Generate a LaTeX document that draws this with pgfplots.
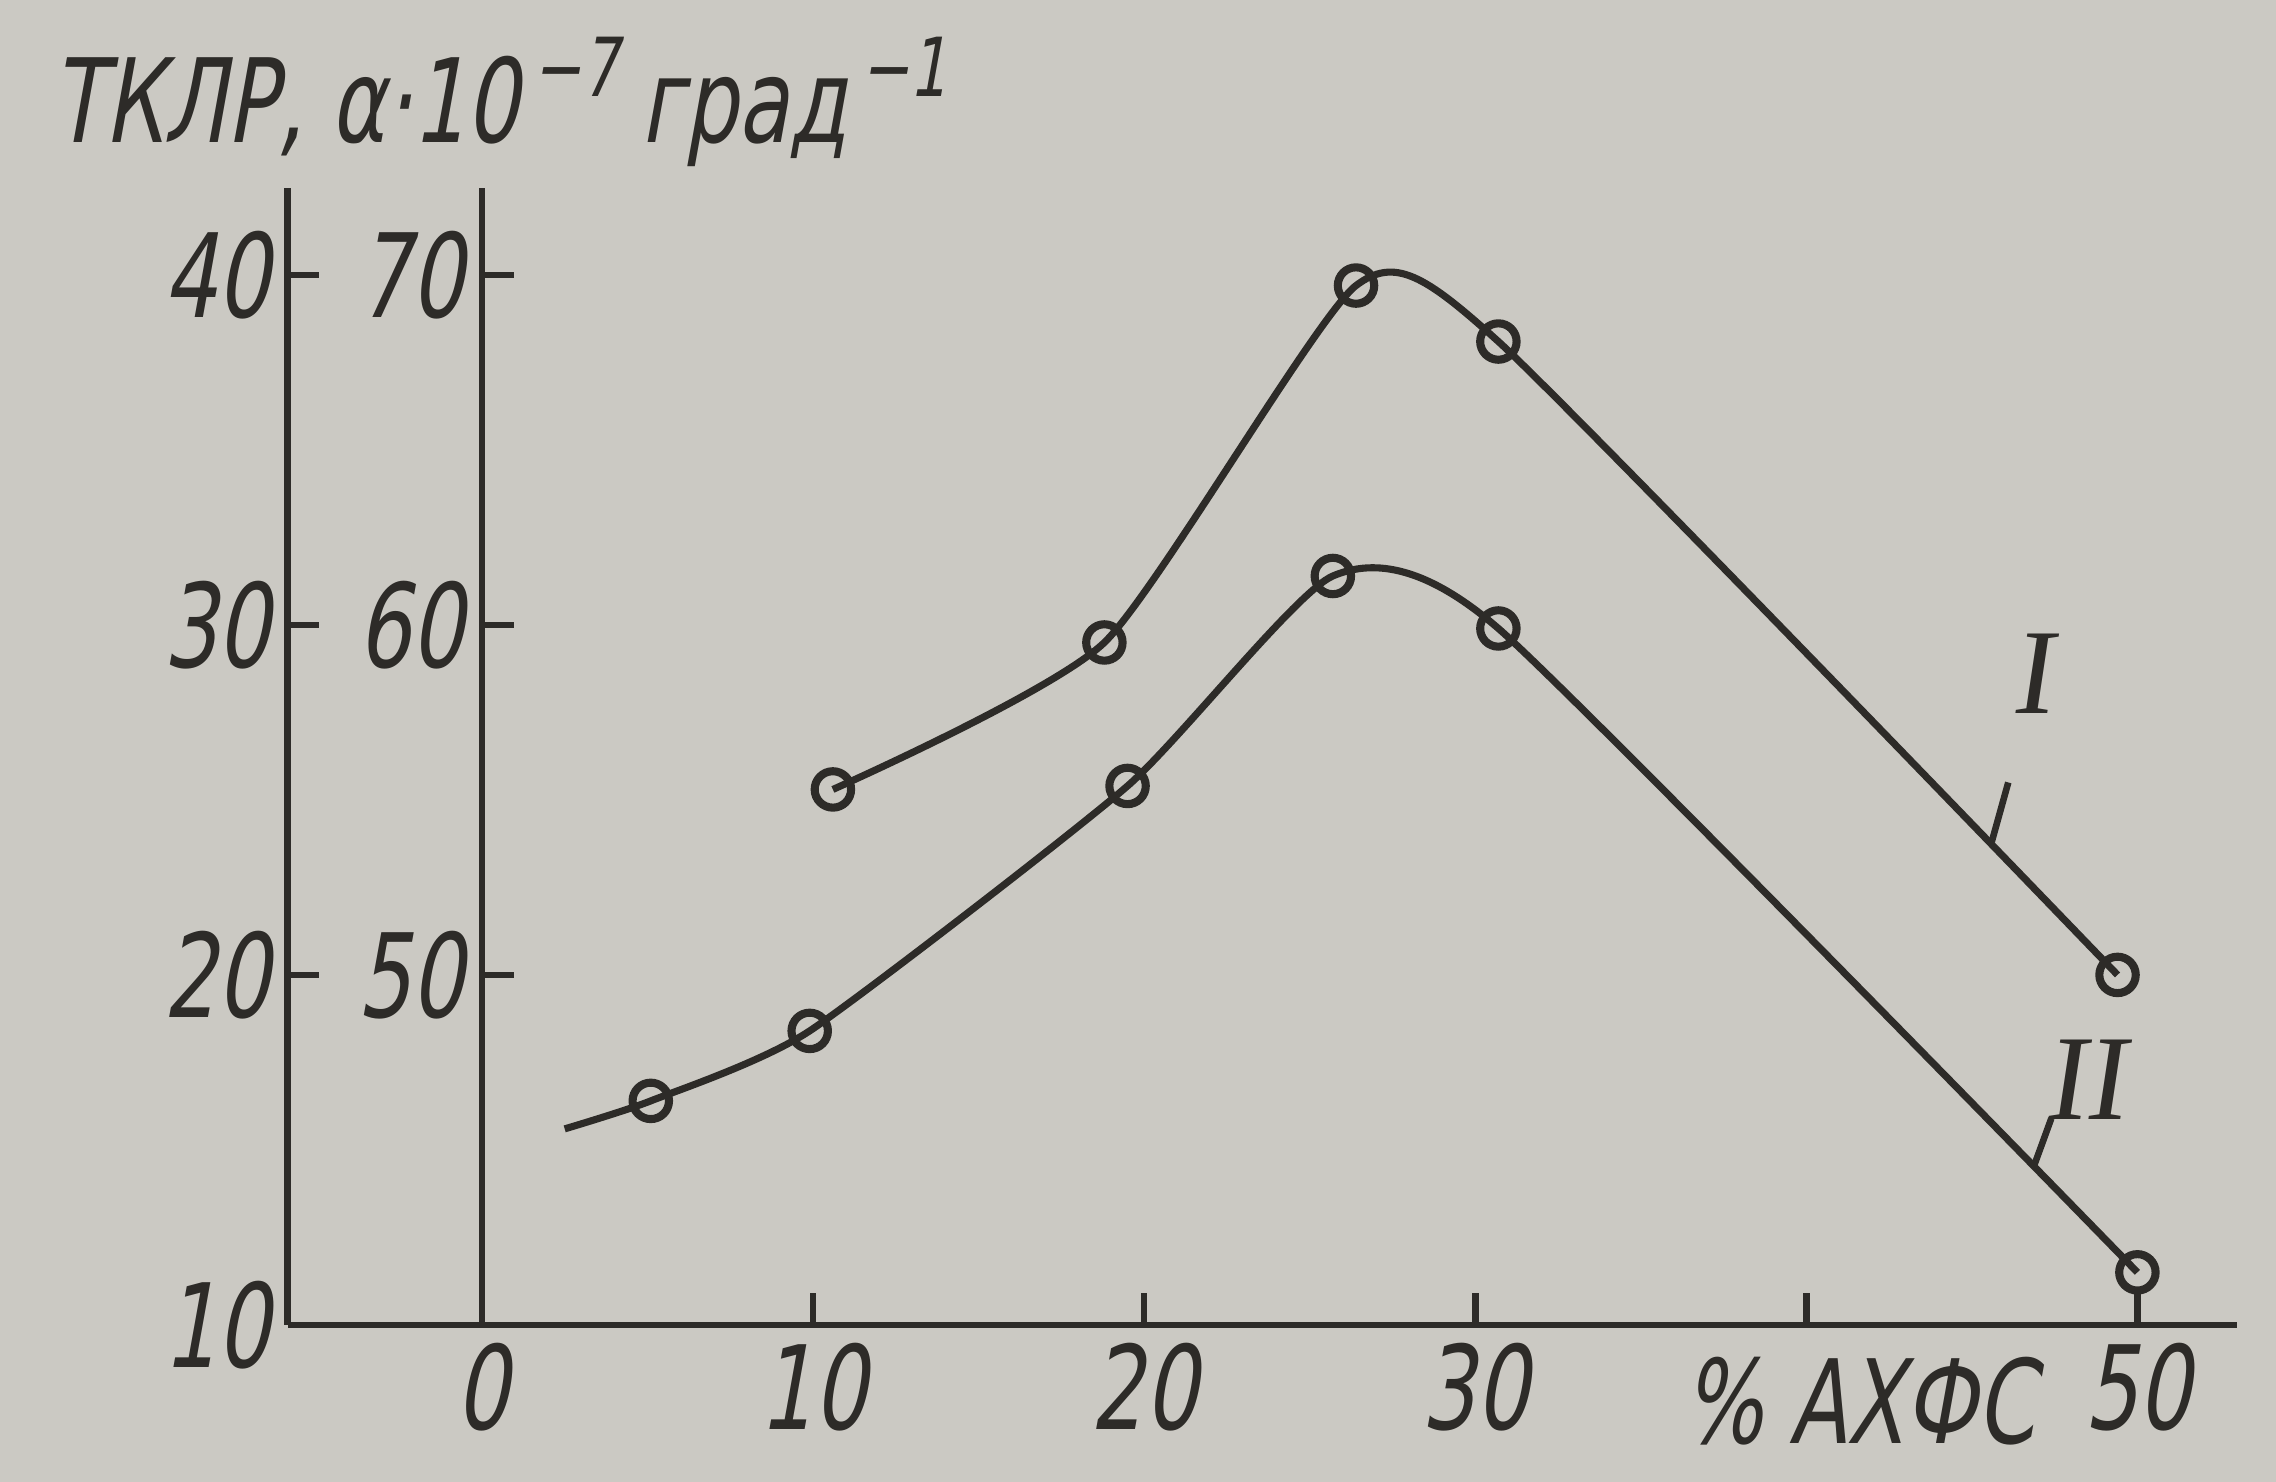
\documentclass[border=0pt]{standalone}
\usepackage{pgfplots}
\pgfplotsset{compat=1.18}
\usepackage{fontspec}
\setmainfont{DejaVu Sans}[FakeStretch=0.72, FakeSlant=0.18]
\newfontfamily\romanfont{Liberation Serif}[FakeSlant=0.15]
\usetikzlibrary{backgrounds}
\definecolor{paper}{RGB}{203,201,195}
\definecolor{ink}{RGB}{45,43,40}

\begin{document}
\begin{tikzpicture}[show background rectangle,
  background rectangle/.style={fill=paper},
  inner frame xsep=0.25cm, inner frame ysep=0.14cm]
\pgfplotsset{
  gost/.style={
    scale only axis, height=7.9cm, clip=false,
    axis x line*=bottom, axis y line*=left,
    tick align=inside, major tick length=0.22cm,
    axis line style={ink, line width=1.3pt},
    tick style={ink, line width=1.3pt},
    tick label style={font=\fontsize{23}{25}\selectfont, text=ink},
    /pgf/number format/assume math mode=true,
  }
}

% outer scale (10 ... 40)
\begin{axis}[gost, at={(-1.35cm,0)}, anchor=south west, width=1.35cm,
    xmin=-6, xmax=0, ymin=10, ymax=42.5,
    xtick=\empty, ytick={10,20,30,40}]
  \node[anchor=base west, text=ink, font=\fontsize{23}{25}\selectfont]
    at (rel axis cs:-1.3,1.04)
    {ТКЛР, α·10\textsuperscript{\,−7}\,град\textsuperscript{\,−1}};
\end{axis}

% inner scale (40 ... 70) and the curves
\begin{axis}[gost, at={(0,0)}, anchor=south west, width=12.19cm,
    xmin=0, xmax=53, ymin=40, ymax=72.5,
    xtick={0,10,20,30,40,50}, xticklabels={0,10,20,30,,50},
    ytick={50,60,70}]

  % curve I
  \addplot[ink, line width=1.4pt, smooth, tension=0.35,
    mark=o, mark size=3.6pt, mark options={line width=1.6pt}] coordinates {
    (10.6,55.3) (18.8,59.5) (26.4,69.7) (30.7,68.1) (49.4,50.0)
  };
  % curve II
  \addplot[ink, line width=1.4pt, smooth, tension=0.35,
    mark=o, mark size=3.6pt, mark indices={2,...,7}, mark options={line width=1.6pt}] coordinates {
    (2.5,45.6) (5.1,46.4) (9.9,48.4) (19.5,55.4) (25.7,61.4) (30.7,59.9) (50.0,41.5)
  };

  % curve labels with pointers
  \draw[ink, line width=1.3pt] (axis cs:45.6,53.8) -- (axis cs:46.1,55.5);
  \node[text=ink, font=\romanfont\fontsize{24}{26}\selectfont] at (axis cs:46.8,58.6) {I};
  \draw[ink, line width=1.3pt] (axis cs:46.9,44.6) -- (axis cs:47.4,45.9);
  \node[text=ink, font=\romanfont\fontsize{24}{26}\selectfont] at (axis cs:48.4,47.0) {II};

  \node[anchor=north, text=ink, font=\fontsize{23}{25}\selectfont]
    at (axis cs:41.6,39.6) {\%~АХФС};
\end{axis}
\end{tikzpicture}
\end{document}
